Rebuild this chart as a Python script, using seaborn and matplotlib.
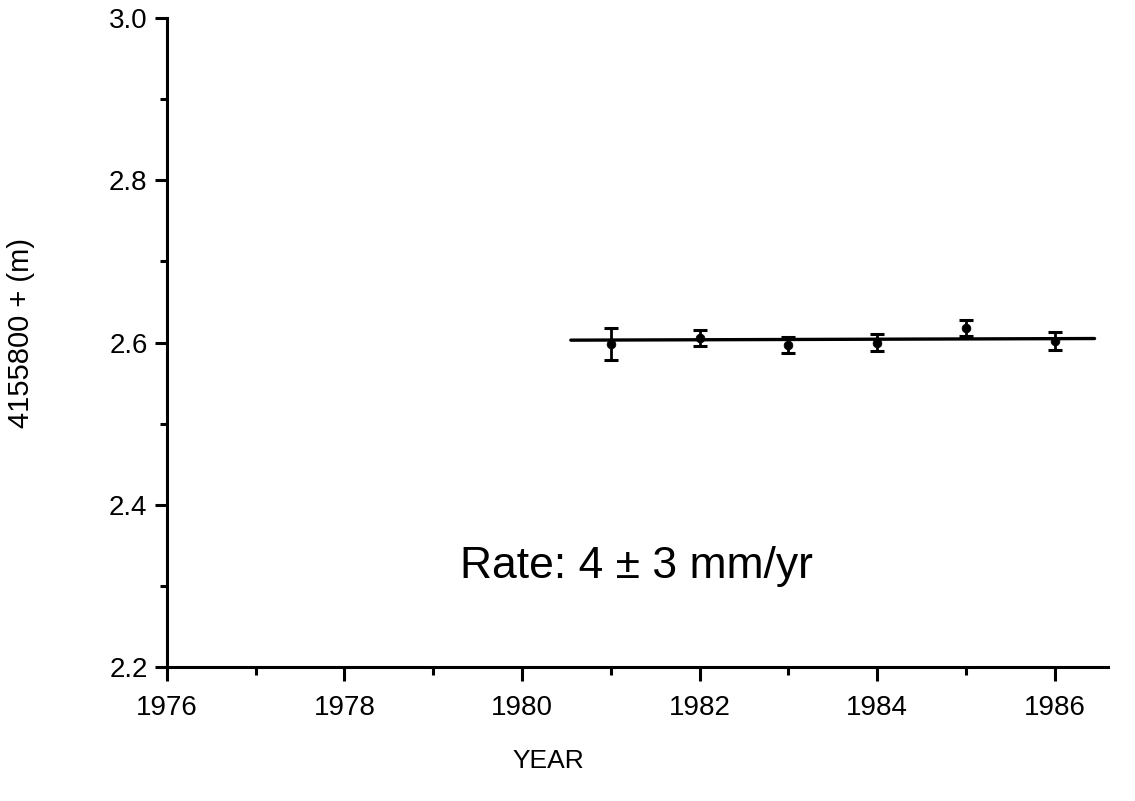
import matplotlib
matplotlib.use("Agg")
import matplotlib.pyplot as plt
import seaborn as sns
from matplotlib.ticker import MultipleLocator

years = [1981, 1982, 1983, 1984, 1985, 1986]
positions = [2.598, 2.606, 2.597, 2.600, 2.618, 2.602]
errors = [0.020, 0.010, 0.010, 0.010, 0.010, 0.011]

fit_years = [1980.55, 1986.45]
fit_positions = [2.603, 2.605]

rate_label = "Rate: 4 \u00b1 3 mm/yr"

sns.set_style("ticks", {"axes.edgecolor": "black", "xtick.color": "black",
                        "ytick.color": "black", "text.color": "black",
                        "axes.labelcolor": "black"})
plt.rcParams["font.family"] = ["Liberation Sans", "DejaVu Sans"]

fig = plt.figure(figsize=(11.35, 8.01), dpi=100)
ax = fig.add_axes([0.1471, 0.1673, 0.829, 0.810])

sns.lineplot(x=fit_years, y=fit_positions, color="black", linewidth=2.4, ax=ax)
ax.errorbar(years, positions, yerr=errors, fmt="none", ecolor="black",
            elinewidth=2.0, capsize=4.7, capthick=2.2)
sns.scatterplot(x=years, y=positions, color="black", s=40, edgecolor="black", ax=ax, zorder=3)

ax.set_xlim(1976, 1986.6)
ax.set_ylim(2.2, 3.0)
ax.xaxis.set_major_locator(MultipleLocator(2))
ax.xaxis.set_minor_locator(MultipleLocator(1))
ax.yaxis.set_major_locator(MultipleLocator(0.2))
ax.yaxis.set_minor_locator(MultipleLocator(0.1))
ax.yaxis.set_major_formatter(plt.FuncFormatter(lambda v, p: f"{v:.1f}"))

sns.despine(ax=ax)
for side in ["left", "bottom"]:
    ax.spines[side].set_linewidth(2.2)
ax.tick_params(axis="x", which="major", length=10, width=2.2, labelsize=20, pad=10)
ax.tick_params(axis="x", which="minor", length=6, width=2.2)
ax.tick_params(axis="y", which="major", length=9, width=2.2, labelsize=20, pad=5)
ax.tick_params(axis="y", which="minor", length=5, width=2.2)

ax.set_xlabel("YEAR", fontsize=19)
ax.xaxis.set_label_coords(0.405, -0.126)
ax.set_ylabel("4155800 + (m)", fontsize=21)
ax.yaxis.set_label_coords(-0.140, 0.515)

ax.text(1979.3, 2.31, rate_label, fontsize=32, va="baseline", ha="left")

fig.savefig("out.png", dpi=100)
plt.close(fig)
